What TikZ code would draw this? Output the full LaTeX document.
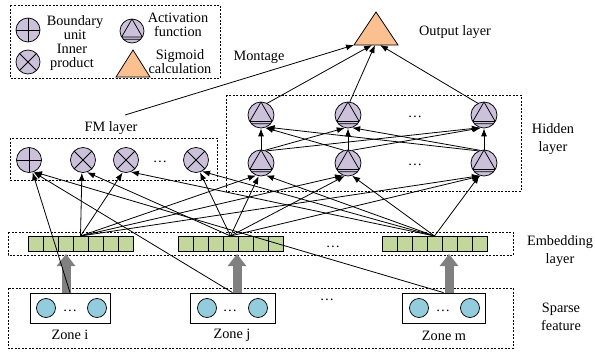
\documentclass[tikz,border=0pt]{standalone}
\usepackage{fontspec}
\setmainfont{Liberation Serif}
\usetikzlibrary{arrows.meta,calc}
\definecolor{lav}{HTML}{CCC1DA}
\definecolor{grn}{HTML}{C3D69B}
\definecolor{blu}{HTML}{93CDDD}
\definecolor{org}{HTML}{FAC090}
\definecolor{gra}{HTML}{808080}
\tikzset{
  txt/.style={inner sep=0pt, font=\fontsize{14.3}{14}\selectfont},
  lbl/.style={inner sep=0pt, align=center, font=\fontsize{14.3}{18}\selectfont},
  leg/.style={inner sep=0pt, align=center, font=\fontsize{14.3}{14}\selectfont},
  dbox/.style={draw, dash pattern=on 2pt off 1.5pt, line width=0.6pt},
  unitc/.style={circle, draw, fill=lav, minimum size=25pt, inner sep=0pt, line width=0.75pt},
  plusu/.style={unitc, path picture={\draw[line width=0.75pt] (path picture bounding box.north) -- (path picture bounding box.south) (path picture bounding box.west) -- (path picture bounding box.east);}},
  crossu/.style={unitc, path picture={\draw[line width=0.75pt] (path picture bounding box.north west) -- (path picture bounding box.south east) (path picture bounding box.north east) -- (path picture bounding box.south west);}},
  actu/.style={unitc, minimum size=2*#1, path picture={\draw[line width=0.75pt] ($(path picture bounding box.center)+(-90:#1)$) -- ($(path picture bounding box.center)+(30:#1)$) -- ($(path picture bounding box.center)+(150:#1)$) -- cycle ($(path picture bounding box.center)+(-#1,0.68*#1)$) -- ($(path picture bounding box.center)+(#1,0.68*#1)$);}},
  cell/.style={draw, fill=grn, minimum width=15pt, minimum height=15pt, inner sep=0pt, outer sep=0pt, line width=0.75pt},
  zbox/.style={draw, line width=0.8pt, minimum width=80pt, minimum height=30pt, inner sep=0pt},
  zc/.style={circle, draw, fill=blu, minimum size=19pt, inner sep=0pt, line width=0.75pt},
  arr/.style={line width=0.8pt, -{Latex[length=8pt,width=6pt]}},
  garr/.style={line width=9pt, gra, -{Triangle[width=18pt,length=12pt]}},
}
\begin{document}
\begin{tikzpicture}[x=1pt,y=-1pt]
\useasboundingbox (0,0) rectangle (595,354);
% ---- legend
\draw[dbox] (10,5) rectangle (220,78);
\node[plusu, minimum size=24pt] (lb) at (28,30) {};
\node[leg] (lbt) at (75,28) {Boundary\\unit};
\node[crossu, minimum size=24pt] (li) at (28,62) {};
\node[leg] (lit) at (72,57) {Inner\\product};
\node[actu=12] (la) at (132,31) {};
\node[leg] (lat) at (178,25) {Activation\\function};
\draw[fill=org, line width=0.75pt] (133,50) -- (150,77) -- (116,77) -- cycle;
\node[leg] (lst) at (180,62) {Sigmoid\\calculation};
% ---- output
\draw[fill=org, line width=0.75pt] (376,12) -- (398,45) -- (354,45) -- cycle;
\coordinate (oL) at (354,45);
\coordinate (oB) at (376,45);
\node[txt] (outt) at (455,32) {Output layer};
\node[txt] (mont) at (259,57) {Montage};
\coordinate (ms) at (125,115);
% ---- boxes
\draw[dbox] (226,95) rectangle (521,191);
\draw[dbox] (10,138) rectangle (217,180);
\draw[dbox] (8,232) rectangle (513,255);
\draw[dbox] (8,288) rectangle (513,348);
\node[txt] (fmt) at (111,128) {FM layer};
\node[lbl] (hlt) at (553,139) {Hidden\\layer};
\node[lbl] (elt) at (560,251) {Embedding\\layer};
\node[lbl] (slt) at (561,317) {Sparse\\feature};
% ---- embedding cells
\foreach \g/\x in {1/28,2/178,3/382}{
  \foreach \i in {0,...,6}{
    \node[cell] (g\g c\i) at ({\x+7.5+15*\i},243.5) {};
  }
}
\node[txt, anchor=base] (ed) at (333,247) {\ldots};
% ---- zones
\node[zbox] (zi) at (70,308) {};
\node[zbox, minimum width=85pt] (zj) at (232.5,308) {};
\node[zbox, minimum width=83pt] (zm) at (443.5,308) {};
\node[zc] (zi1) at (46,308) {};
\node[zc] (zi2) at (97,308) {};
\node[txt, anchor=base] (zid) at (70,311) {\ldots};
\node[zc] (zj1) at (207,308) {};
\node[zc] (zj2) at (258,308) {};
\node[txt, anchor=base] (zjd) at (230,311) {\ldots};
\node[zc] (zm1) at (419,308) {};
\node[zc] (zm2) at (470,308) {};
\node[txt, anchor=base] (zmd) at (443,311) {\ldots};
\node[txt, anchor=base] (sd) at (327,300) {\ldots};
\node[txt] (zit) at (70,335) {Zone i};
\node[txt] (zjt) at (232,335) {Zone j};
\node[txt] (zmt) at (444,336) {Zone m};
% ---- gray arrows
\coordinate (ga1) at (66,293); \coordinate (gb1) at (66,254);
\coordinate (ga2) at (237,293); \coordinate (gb2) at (237,254);
\coordinate (ga3) at (449,293); \coordinate (gb3) at (449,254);
\foreach \k in {1,2,3}{\draw[garr] (ga\k) -- (gb\k);}
% ---- FM nodes
\node[plusu] (f1) at (29,160) {};
\node[crossu] (f2) at (83,160) {};
\node[crossu] (f3) at (126,160) {};
\node[crossu] (f4) at (196,160) {};
\node[txt, anchor=base] (fd) at (160,162) {\ldots};
% ---- hidden nodes
\foreach \k/\x in {1/261,2/348,3/484}{
  \node[actu=13] (ht\k) at (\x,115) {};
  \node[actu=13] (hb\k) at (\x,163) {};
}
\node[txt, anchor=base] (hd1) at (415,117) {\ldots};
\node[txt, anchor=base] (hd2) at (415,165) {\ldots};
% ---- connectors: sparse -> boundary unit
\draw[arr] (zi.north) -- (f1.-74);
\draw[arr] (zj.north) -- (f1.-70);
\draw[arr] (zm.north) -- (f1.-67);
% ---- embedding -> FM
\draw[arr] (g1c3.north) -- (f2.-95);
\draw[arr] (g2c3.north) -- (f2.-72);
\draw[arr] (g1c3.north) -- (f3.-105);
\draw[arr] (g3c3.north) -- (f3.-68);
\draw[arr] (g2c3.north) -- (f4.-72);
\draw[arr] (g3c3.north) -- (f4.-62);
% ---- embedding -> hidden bottom
\draw[arr] (g1c3.north) -- (hb1.-112);
\draw[arr] (g2c3.north) -- (hb1.-100);
\draw[arr] (g3c3.north) -- (hb1.-68);
\draw[arr] (g1c3.north) -- (hb2.-112);
\draw[arr] (g2c3.north) -- (hb2.-104);
\draw[arr] (g3c3.north) -- (hb2.-72);
\draw[arr] (g1c3.north) -- (hb3.-108);
\draw[arr] (g2c3.north) -- (hb3.-104);
\draw[arr] (g3c3.north) -- (hb3.-110);
% ---- hidden bottom -> hidden top
\foreach \i in {1,2,3}{\draw[arr] (hb\i.north) -- (ht\i.south);}
\draw[arr] (hb1.72) -- (ht2.-104);
\draw[arr] (hb1.65) -- (ht3.-108);
\draw[arr] (hb2.108) -- (ht1.-72);
\draw[arr] (hb2.72) -- (ht3.-104);
\draw[arr] (hb3.115) -- (ht1.-65);
\draw[arr] (hb3.108) -- (ht2.-72);
% ---- to output
\draw[arr] (ms) -- (oL);
\draw[arr] (ht1.62) -- ($(oB)+(-4,0)$);
\draw[arr] (ht2.82) -- ($(oB)+(-1,0)$);
\draw[arr] (ht3.118) -- ($(oB)+(4,0)$);
\end{tikzpicture}
\end{document}
